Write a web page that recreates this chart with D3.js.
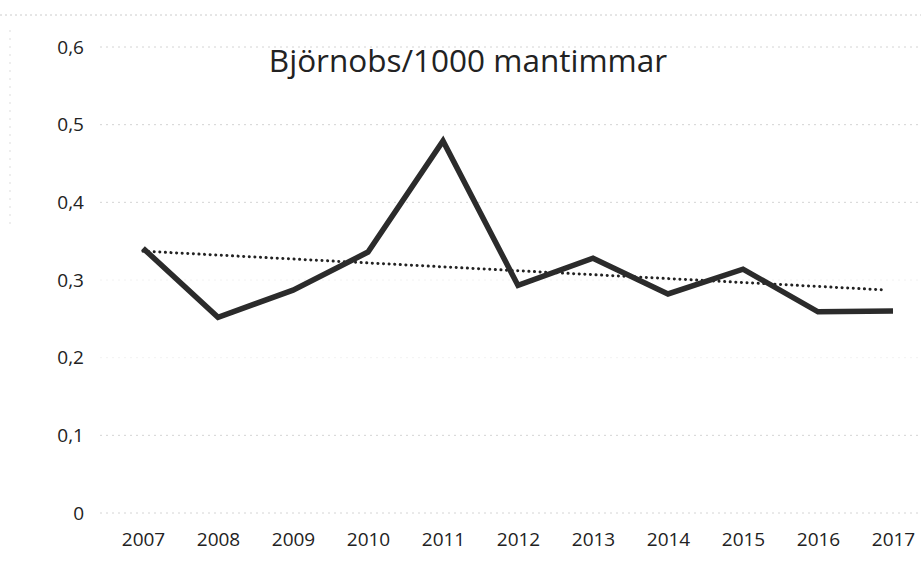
<!DOCTYPE html>
<html><head><meta charset="utf-8">
<script src="https://cdn.jsdelivr.net/npm/d3@7"></script>
<style>body{margin:0;background:#fff}svg{display:block}text{font-family:"Open Sans","Noto Sans",sans-serif;fill:#222}</style>
</head><body>
<script>
const years = [2007,2008,2009,2010,2011,2012,2013,2014,2015,2016,2017];
const values = [0.341,0.252,0.287,0.336,0.479,0.293,0.328,0.282,0.314,0.259,0.260];
const yTicks = [0,0.1,0.2,0.3,0.4,0.5,0.6];
const title = "Björnobs/1000 mantimmar";

const W=921,H=562;
const svg=d3.select("body").append("svg").attr("width",W).attr("height",H);
const x=d3.scaleLinear().domain([2007,2017]).range([143,893]);
const y=d3.scaleLinear().domain([0,0.6]).range([513,47]);

// faint scan-like frame and gridlines
svg.append("line").attr("x1",0).attr("x2",W).attr("y1",15).attr("y2",15)
  .attr("stroke","#ccc").attr("stroke-width",1).attr("stroke-dasharray","2,3");
svg.append("line").attr("x1",10).attr("x2",10).attr("y1",30).attr("y2",230)
  .attr("stroke","#ddd").attr("stroke-width",1).attr("stroke-dasharray","2,6");
svg.append("g").selectAll("line").data(yTicks).join("line")
  .attr("x1",100).attr("x2",W).attr("y1",d=>y(d)).attr("y2",d=>y(d))
  .attr("stroke",d=>(d===0.2||d===0.3)?"#f2f2f2":"#d4d4d4").attr("stroke-width",1).attr("stroke-dasharray","2,4");

// y axis labels
const yAxis=d3.axisLeft(y).tickValues(yTicks).tickSize(0).tickPadding(0)
  .tickFormat(d=>d===0?"0":d3.format(".1f")(d).replace(".",","));
const gy=svg.append("g").attr("transform","translate(84,0)").call(yAxis);
gy.select(".domain").remove();
gy.attr("font-size",null).attr("font-family",null);
gy.selectAll("text").attr("font-size",19).attr("fill","#222");

// x axis labels
const xAxis=d3.axisBottom(x).tickValues(years).tickSize(0).tickPadding(0).tickFormat(d3.format("d"));
const gx=svg.append("g").attr("transform","translate(0,532)").call(xAxis);
gx.select(".domain").remove();
gx.attr("font-size",null).attr("font-family",null);
gx.selectAll("text").attr("font-size",19).attr("fill","#222");

// trend line (linear regression)
const mx=d3.mean(years), my=d3.mean(values);
const slope=d3.sum(years,(d,i)=>(d-mx)*(values[i]-my))/d3.sum(years,d=>(d-mx)*(d-mx));
const icpt=my-slope*mx;
const tx=[2007,2016.9];
svg.append("line").attr("x1",x(tx[0])).attr("y1",y(icpt+slope*tx[0]))
  .attr("x2",x(tx[1])).attr("y2",y(icpt+slope*tx[1]))
  .attr("stroke","#222").attr("stroke-width",3).attr("stroke-dasharray","0.1,5.5").attr("stroke-linecap","round");

// data line
svg.append("path").datum(years.map((d,i)=>[d,values[i]]))
  .attr("d",d3.line().x(d=>x(d[0])).y(d=>y(d[1])))
  .attr("fill","none").attr("stroke","#2b2b2b").attr("stroke-width",5.5).attr("stroke-linejoin","miter");

// title
svg.append("text").attr("x",468).attr("y",72).attr("text-anchor","middle")
  .attr("font-size",31.5).attr("fill","#222").text(title);
</script>
</body></html>
